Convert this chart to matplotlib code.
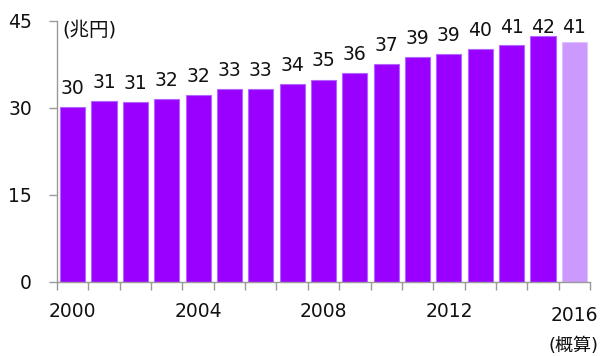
import matplotlib
matplotlib.use("Agg")
import matplotlib.pyplot as plt
import matplotlib.transforms as mtransforms
import numpy as np

plt.rcParams['font.family'] = ['DejaVu Sans', 'Noto Sans CJK JP']

years = ["2000", "2001", "2002", "2003", "2004", "2005", "2006", "2007", "2008",
         "2009", "2010", "2011", "2012", "2013", "2014", "2015", "2016"]
values = [30.2, 31.2, 31.0, 31.6, 32.2, 33.2, 33.2, 34.2, 34.9,
          36.1, 37.5, 38.7, 39.3, 40.1, 40.9, 42.4, 41.3]
labels = ["30", "31", "31", "32", "32", "33", "33", "34", "35",
          "36", "37", "39", "39", "40", "41", "42", "41"]
tick_labels = ["2000", "", "", "", "2004", "", "", "", "2008",
               "", "", "", "2012", "", "", "", "2016"]
last_note = "(概算)"
yticks = [0, 15, 30, 45]
unit = "(兆円)"

colors = ["#9900FF"] * 16 + ["#CC99FF"]
edges = ["#B466FF"] * 16 + ["#E0C2FF"]

fig = plt.figure(figsize=(6.03, 3.56), dpi=100)
ax = fig.add_axes([57/603, 1 - 281.7/356, (590-57)/603, (281.7-21)/356])

x = np.arange(len(years))
ax.bar(x, values, width=0.8, color=colors, edgecolor=edges, linewidth=0.8)
# labels sit above bars, but are kept inside the chart area (clamped at top)
label_gap = 2.25
label_top_limit = 42.9
for xi, v, lab in zip(x, values, labels):
    ax.text(xi, min(v + label_gap, label_top_limit), lab, ha="center",
            va="baseline", fontsize=13.5, color="#111111", clip_on=False)

ax.set_xlim(-0.5, len(years) - 0.5)
ax.set_ylim(0, 45)
ax.set_yticks(yticks)
ax.set_yticklabels([str(t) for t in yticks], fontsize=13.5, color="#111111")
ax.set_xticks(list(x - 0.5) + [len(years) - 0.5])
ax.set_xticklabels([""] * (len(years) + 1))
ax.set_xticks(x, minor=True)
ax.set_xticklabels(tick_labels, minor=True, fontsize=13.5, color="#111111")
ax.tick_params(axis="x", which="minor", length=0, pad=14.5)
ax.tick_params(axis="x", which="major", length=6, color="#999999", width=1)
ax.tick_params(axis="y", length=6, color="#999999", width=1, pad=12)

# 2016 label sits slightly lower
lbl = ax.get_xticklabels(minor=True)[-1]
lbl.set_transform(lbl.get_transform() +
                  mtransforms.ScaledTranslation(0, -4/100, fig.dpi_scale_trans))

for s in ["top", "right"]:
    ax.spines[s].set_visible(False)
for s in ["left", "bottom"]:
    ax.spines[s].set_color("#999999")
    ax.spines[s].set_linewidth(1)

fig.text(62/603, 1 - 30/356, unit, fontsize=14, ha="left", va="center",
         color="#111111", family=['DejaVu Sans', 'Noto Sans CJK JP'])
fig.text(574/603, 1 - 346/356, last_note, fontsize=13, ha="center", va="center",
         color="#111111", family=['DejaVu Sans', 'Noto Sans CJK JP'])

fig.savefig("out.png", dpi=100)
